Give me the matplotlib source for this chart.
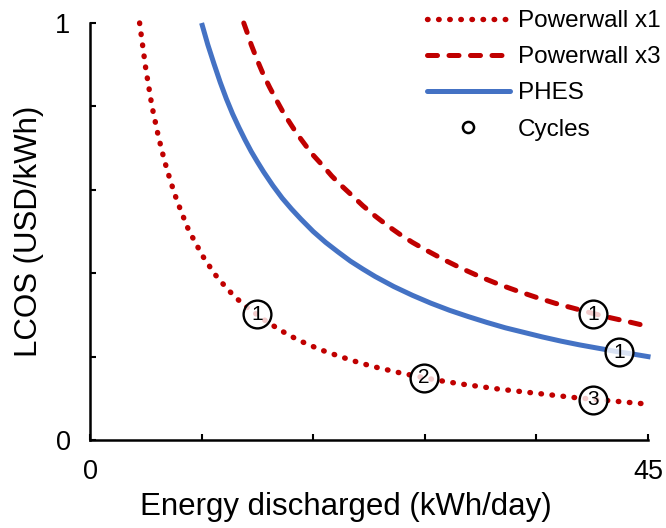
import matplotlib
matplotlib.use("Agg")
import matplotlib.pyplot as plt
from matplotlib.lines import Line2D

plt.rcParams['font.family'] = ['Liberation Sans', 'DejaVu Sans']

# Data
pw1_x = [4.0, 4.25, 4.5, 4.75, 5.0, 5.25, 5.5, 5.75, 6.0, 6.5, 7.0, 7.5, 8.0, 8.5, 9.0, 9.5,
         10.0, 10.5, 11.0, 11.5, 12.0, 12.75, 13.5, 14.25, 15.0, 16.0, 17.0, 18.0, 19.0, 20.0,
         21.0, 22.0, 23.0, 24.0, 25.0, 26.0, 27.0, 28.5, 30.0, 31.5, 33.0, 34.5, 36.0, 37.5,
         39.0, 40.5, 42.0, 43.5, 45.0]
pw1_y = [1.00, 0.945, 0.89, 0.845, 0.80, 0.765, 0.73, 0.70, 0.67, 0.62, 0.575, 0.537, 0.50,
         0.474, 0.445, 0.423, 0.40, 0.382, 0.365, 0.349, 0.335, 0.316, 0.30, 0.284, 0.27,
         0.252, 0.237, 0.224, 0.212, 0.202, 0.192, 0.183, 0.175, 0.168, 0.161, 0.155, 0.149,
         0.141, 0.134, 0.128, 0.122, 0.117, 0.112, 0.107, 0.102, 0.098, 0.094, 0.090, 0.086]

pw3_x = [12.4, 12.7, 13.0, 13.5, 14.0, 14.5, 15.0, 15.5, 16.0, 16.5, 17.0, 17.5, 18.0, 18.8,
         19.5, 20.2, 21.0, 22.0, 23.0, 24.0, 25.0, 26.0, 27.0, 28.5, 30.0, 31.5, 33.0, 34.5,
         36.0, 37.5, 39.0, 40.5, 42.0, 43.5, 44.5]
pw3_y = [1.00, 0.975, 0.948, 0.91, 0.875, 0.845, 0.817, 0.79, 0.766, 0.743, 0.722, 0.702,
         0.683, 0.657, 0.633, 0.612, 0.59, 0.562, 0.537, 0.514, 0.493, 0.474, 0.457, 0.433,
         0.411, 0.391, 0.373, 0.357, 0.342, 0.328, 0.316, 0.304, 0.293, 0.283, 0.276]

phes_x = [9.0, 9.25, 9.5, 9.75, 10.0, 10.5, 11.0, 11.5, 12.0, 12.5, 13.0, 13.5, 14.0, 14.75,
          15.5, 16.25, 17.0, 18.0, 19.0, 20.0, 21.0, 22.0, 23.0, 24.5, 26.0, 27.5, 29.0,
          30.5, 32.0, 33.5, 35.0, 36.5, 38.0, 39.5, 41.0, 42.5, 44.0, 45.2]
phes_y = [1.00, 0.974, 0.948, 0.925, 0.902, 0.858, 0.818, 0.782, 0.75, 0.72, 0.692, 0.667,
          0.643, 0.61, 0.58, 0.554, 0.53, 0.50, 0.474, 0.451, 0.429, 0.41, 0.392, 0.368,
          0.347, 0.328, 0.311, 0.296, 0.282, 0.269, 0.258, 0.247, 0.237, 0.228, 0.220,
          0.212, 0.205, 0.199]

cyc_x = [13.5, 26.9, 40.6, 40.6, 42.7]
cyc_y = [0.302, 0.149, 0.096, 0.302, 0.211]
cyc_labels = ['1', '2', '3', '1', '1']

xticks = [0, 9, 18, 27, 36, 45]
xticklabels = ['0', '', '', '', '', '45']
yticks = [0, 0.2, 0.4, 0.6, 0.8, 1.0]
yticklabels = ['0', '', '', '', '', '1']

red = '#C00000'
blue = '#4472C4'

fig = plt.figure(figsize=(6.66, 5.28), dpi=100)
ax = fig.add_axes([90/666, 1 - 440/528, 558/666, 417/528])

lw = 3.6
dot_lw = 3.9
dot_style = (0, (0.1, 1.95))
dash_style = (0, (2.0, 2.3))
ax.plot(pw1_x, pw1_y, color=red, lw=dot_lw, linestyle=dot_style,
        dash_capstyle='round', clip_on=False)
ax.plot(pw3_x, pw3_y, color=red, lw=lw, linestyle=dash_style,
        dash_capstyle='round', clip_on=False)
ax.plot(phes_x, phes_y, color=blue, lw=lw, solid_capstyle='butt', clip_on=False)

ax.plot(cyc_x, cyc_y, linestyle='none', marker='o', markersize=20,
        markerfacecolor=(1, 1, 1, 0.8), markeredgecolor='black', markeredgewidth=1.7,
        clip_on=False, zorder=5)
for x, y, t in zip(cyc_x, cyc_y, cyc_labels):
    ax.text(x, y, t, ha='center', va='center', fontsize=15, zorder=6)

ax.set_xlim(0, 45)
ax.set_ylim(0, 1)
ax.set_xticks(xticks)
ax.set_xticklabels(xticklabels)
ax.set_yticks(yticks)
ax.set_yticklabels(yticklabels)
ax.tick_params(direction='in', length=4, width=1.5, labelsize=19.5, pad=14)
ax.tick_params(axis='x', pad=14)
for s in ['top', 'right']:
    ax.spines[s].set_visible(False)
for s in ['left', 'bottom']:
    ax.spines[s].set_linewidth(1.8)

ax.set_xlabel('Energy discharged (kWh/day)', fontsize=22.5, labelpad=8)
ax.xaxis.set_label_coords(0.459, -0.125)
ax.set_ylabel('LCOS (USD/kWh)', fontsize=22.5, labelpad=8)

handles = [
    Line2D([], [], color=red, lw=dot_lw, linestyle=dot_style, dash_capstyle='round'),
    Line2D([], [], color=red, lw=lw, linestyle=dash_style, dash_capstyle='round'),
    Line2D([], [], color=blue, lw=lw, solid_capstyle='round'),
    Line2D([], [], linestyle='none', marker='o', markersize=8, markerfacecolor='white',
           markeredgecolor='black', markeredgewidth=1.8),
]
labels = ['Powerwall x1', 'Powerwall x3', 'PHES', 'Cycles']
fig.legend(handles, labels, loc='upper right', bbox_to_anchor=(1.0 + 5/666, 1.0),
           frameon=False, fontsize=17.5, handlelength=3.4, handletextpad=0.35,
           labelspacing=0.58, borderaxespad=0.0, borderpad=0.42)

fig.savefig('out.png', dpi=100)
